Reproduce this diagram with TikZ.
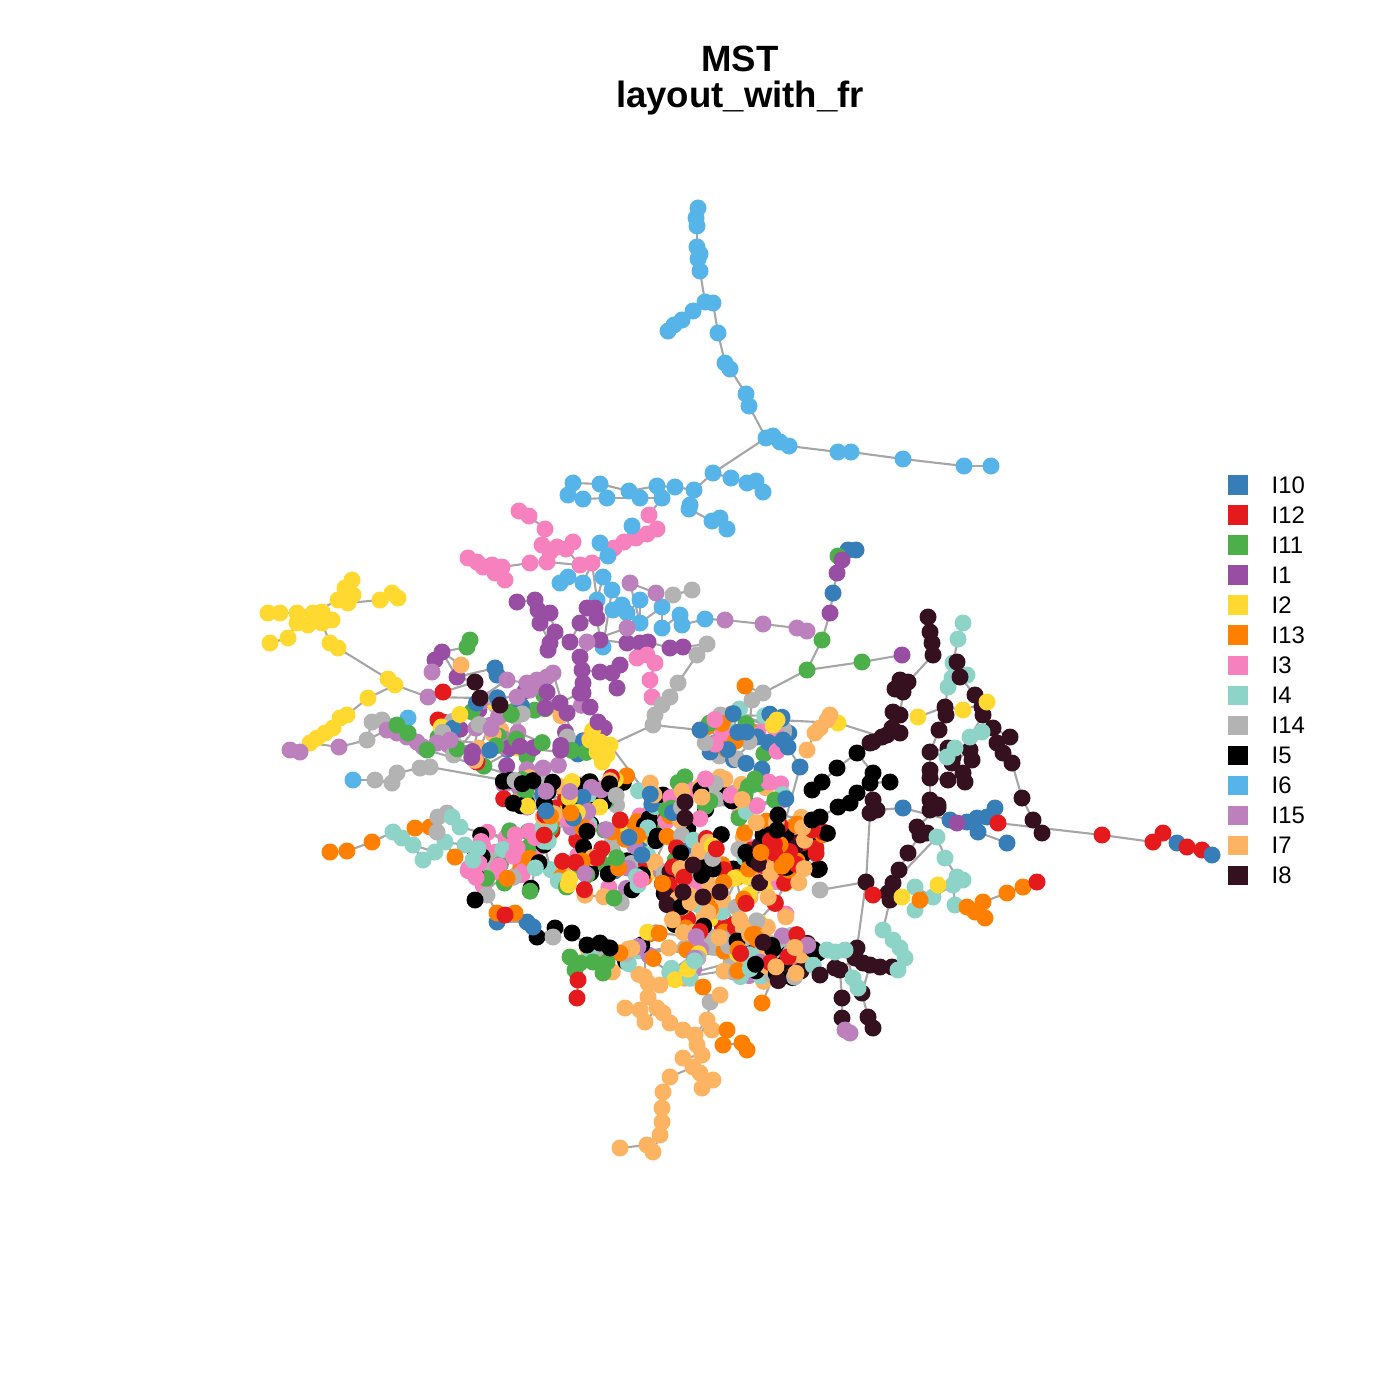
\documentclass[tikz,border=0pt]{standalone}
\usepackage{fontspec}
\setmainfont{Liberation Sans}

% 各类颜色
\definecolor{c10}{HTML}{377EB8}
\definecolor{c12}{HTML}{E41A1C}
\definecolor{c11}{HTML}{4DAF4A}
\definecolor{c1}{HTML}{984EA3}
\definecolor{c2}{HTML}{FFD92F}
\definecolor{c13}{HTML}{FF7F00}
\definecolor{c3}{HTML}{F781BF}
\definecolor{c4}{HTML}{8DD3C7}
\definecolor{c14}{HTML}{B3B3B3}
\definecolor{c5}{HTML}{000000}
\definecolor{c6}{HTML}{56B4E9}
\definecolor{c15}{HTML}{BC80BD}
\definecolor{c7}{HTML}{FDB462}
\definecolor{c8}{HTML}{35101F}
\definecolor{edgegray}{HTML}{A6A6A6}

% 点先记下，最后统一画在边的上面
\newcommand{\dotlist}{}
\newcommand{\adddot}[2]{%
  \xdef\dotlist{\unexpanded\expandafter{\dotlist}\noexpand\node[dot, fill=#2] at (#1) {};}}

% 一条链：#1 前缀, #2 起点, #3 颜色, #4 坐标表
\newcommand{\mstchain}[4]{%
  \foreach \px/\py [count=\k, remember=\k as \pk (initially 0)] in {#4}{%
    \coordinate (#1\k) at (\px,\py);
    \adddot{#1\k}{#3}%
    \ifnum\pk=0 \def\from{#2}\else\edef\from{#1\pk}\fi
    \ifx\from\empty\else
      \draw[edge] (\from) -- (#1\k);
    \fi
  }}

% 中心密集区：椭圆内随机撒点，近的相连
\newcommand{\mstcloud}[7]{%
  \xdef\wx{#2}\xdef\wy{#3}%
  \foreach \k in {1,...,#6}{%
    \pgfmathsetmacro\ang{360*rnd}%
    \pgfmathsetmacro\rr{sqrt(rnd)}%
    \pgfmathsetmacro\nx{#2+#4*\rr*cos(\ang)}%
    \pgfmathsetmacro\ny{#3+#5*\rr*sin(\ang)}%
    \pgfmathrandomitem{\dotcol}{#7}%
    \coordinate (#1\k) at (\nx,\ny);
    \ifnum\k>1
      \pgfmathsetmacro\dd{veclen(\nx-\wx,\ny-\wy)}%
      \ifdim\dd pt<45pt
        \pgfmathtruncatemacro\pk{\k-1}%
        \draw[edge] (#1\pk) -- (#1\k);
      \fi
    \fi
    \adddot{#1\k}{\dotcol}%
    \xdef\wx{\nx}\xdef\wy{\ny}%
  }}

\pgfmathdeclarerandomlist{mixa}{{c15}{c15}{c15}{c15}{c1}{c1}{c11}{c11}{c14}{c10}{c12}{c2}{c7}}
\pgfmathdeclarerandomlist{mixb}{{c3}{c3}{c3}{c3}{c5}{c5}{c4}{c13}{c14}{c11}}
\pgfmathdeclarerandomlist{mixc}{{c5}{c5}{c5}{c13}{c13}{c14}{c14}{c4}{c4}{c10}{c11}{c3}{c15}{c2}{c12}{c7}}
\pgfmathdeclarerandomlist{mixd}{{c7}{c7}{c7}{c12}{c12}{c12}{c5}{c5}{c13}{c13}{c14}{c4}{c8}{c3}{c2}}
\pgfmathdeclarerandomlist{mixe}{{c5}{c5}{c14}{c14}{c4}{c4}{c7}{c7}{c13}{c12}{c15}{c2}}
\pgfmathdeclarerandomlist{mixf}{{c10}{c10}{c10}{c10}{c11}{c14}{c14}{c4}{c3}{c13}}
\pgfmathdeclarerandomlist{mixg}{{c11}{c11}{c11}{c7}{c7}{c4}{c14}{c10}{c3}{c5}}
\pgfmathdeclarerandomlist{mixh}{{c5}{c5}{c5}{c12}{c12}{c7}{c7}{c13}{c8}}
\pgfmathdeclarerandomlist{mixi}{{c5}{c5}{c14}{c11}{c10}{c7}{c15}{c13}{c2}{c12}}
\pgfmathdeclarerandomlist{mixj}{{c14}{c14}{c15}{c5}{c5}{c4}{c12}{c8}{c13}{c7}}

\begin{document}
\begin{tikzpicture}[
  x=0.01cm, y=-0.01cm,
  dot/.style={circle, inner sep=0pt, minimum size=0.17cm, draw=none},
  edge/.style={edgegray, line width=0.6pt},
  keybox/.style={minimum width=0.2cm, minimum height=0.19cm, inner sep=0pt, draw=none},
  keytext/.style={anchor=west, inner sep=0pt, font=\fontsize{6.8}{8}\selectfont},
  titletext/.style={anchor=base, inner sep=0pt, font=\fontsize{10.4}{12}\selectfont\bfseries},
]
\useasboundingbox (0,0) rectangle (1400,1400);
\pgfmathsetseed{2024}

% 标题
\node[titletext] (title1) at (740,72) {MST};
\node[titletext] (title2) at (740,108) {layout\_with\_fr};

% 中心密集区
\mstcloud{za}{520}{730}{85}{40}{80}{mixa}
\mstcloud{zb}{510}{860}{45}{35}{50}{mixb}
\mstcloud{zc}{615}{840}{75}{65}{140}{mixc}
\mstcloud{zd}{730}{890}{70}{60}{140}{mixd}
\mstcloud{ze}{690}{955}{110}{25}{80}{mixe}
\mstcloud{zf}{745}{735}{45}{40}{45}{mixf}
\mstcloud{zg}{720}{795}{70}{25}{50}{mixg}
\mstcloud{zh}{790}{845}{45}{35}{50}{mixh}
\mstcloud{zi}{560}{790}{60}{30}{60}{mixi}
\mstcloud{zj}{775}{960}{50}{30}{50}{mixj}

% 上方蓝色分支
\mstchain{t}{}{c6}{766/438, 749/406, 746/394, 730/369, 725/363, 718/333, 713/303, 705/302, 700/271, 698/259, 700/254, 697/247, 697/226, 696/218, 698/208}
\mstchain{ta}{t8}{c6}{693/311, 682/320, 674/325, 668/331}
\mstchain{tb}{t1}{c6}{773/436, 780/442, 789/446, 838/452, 851/452, 903/459, 964/466, 991/466}
\mstchain{tc}{t1}{c6}{713/473, 694/490, 675/487, 657/486, 629/491, 600/484, 573/483, 568/495}
\mstchain{td}{tc1}{c6}{731/478, 747/483, 756/481, 763/492}
\mstchain{te}{tc4}{c6}{662/498, 640/498, 607/498, 583/499}
\mstchain{tf}{tc2}{c6}{690/505, 689/509, 712/521, 720/518, 727/529}

% 粉色
\mstchain{pa}{te1}{c3}{649/515, 657/529, 647/534, 636/538, 624/542, 614/548}
\mstchain{pb}{pa5}{c6}{632/526}
\mstchain{pc}{pa6}{c3}{592/563, 580/565, 566/549, 557/547, 550/552, 542/545, 545/529, 529/516, 519/511}
\mstchain{pd}{pa6}{c6}{608/556, 600/543}
\mstchain{pe}{pc2}{c3}{547/562, 530/563, 502/567, 492/565, 483/567, 477/562, 468/558}
\mstchain{pf}{pe3}{c3}{505/580, 495/573}
\mstchain{pg}{pc4}{c3}{573/542}

% 蓝色与紫色
\mstchain{sa}{pc1}{c6}{583/583, 568/577, 560/583}
\mstchain{sb}{pc1}{c6}{597/600, 603/577, 612/590, 622/605, 613/610, 627/613, 640/600, 640/623, 662/607, 662/628}
\mstchain{sc}{sb10}{c6}{680/615, 682/625, 705/619}
\mstchain{sd}{sc3}{c15}{725/620, 763/624, 797/628, 807/631}
\mstchain{se}{sb9}{c14}{673/595, 692/590}
\mstchain{sf}{sb8}{c15}{630/583, 656/593}
\mstchain{sg}{sb3}{c6}{603/647}
\mstchain{ua}{sb1}{c1}{595/608, 587/608, 580/623, 570/642, 555/632, 550/613, 538/610, 535/600, 517/602}
\mstchain{ub}{ua3}{c1}{597/618, 600/640, 627/643, 640/643, 648/642}
\mstchain{uc}{ub5}{c1}{670/648, 683/647}
\mstchain{ud}{ua5}{c1}{540/623, 550/643, 548/650}
\mstchain{ue}{ub2}{c1}{580/657, 582/670, 583/683, 580/693, 560/703}
\mstchain{uf}{ue2}{c1}{600/672, 612/673, 620/665}
\mstchain{ug}{uf2}{c1}{617/688}
\mstchain{uh}{ub2}{c15}{587/642, 627/628}
\mstchain{ui}{ub4}{c3}{637/658, 647/655, 655/663, 650/680, 652/697}
\mstchain{gg}{uc2}{c14}{707/644, 697/655, 678/683, 670/697, 662/705, 655/715, 653/725}

% 左侧黄色分支
\mstchain{ya}{}{c2}{268/613, 280/613, 297/613, 313/613, 322/612, 332/620, 322/623, 308/625, 297/623}
\mstchain{yb}{ya4}{c2}{338/600, 345/588, 352/580, 353/595, 348/603}
\mstchain{yc}{yb5}{c2}{380/600, 392/593, 398/598}
\mstchain{yd}{ya9}{c2}{288/638, 270/643}
\mstchain{ye}{ya7}{c2}{330/643, 338/648, 388/679, 395/685}
\mstchain{yf}{ye4}{c2}{368/698, 347/715, 340/718, 333/728, 325/733, 317/738, 310/743}
\mstchain{yg}{yf7}{c15}{300/752, 290/750}
\mstchain{yh}{ye4}{c15}{428/697}

% 左侧灰色与浅紫
\mstchain{la}{yf7}{c15}{339/747}
\mstchain{lb}{la1}{c14}{367/740, 372/722, 382/720}
\mstchain{lc}{lb1}{c15}{387/730, 397/733, 407/737, 417/742, 423/747, 437/743, 450/740}
\mstchain{ld}{lb3}{c6}{408/718}
\mstchain{le}{lc2}{c11}{397/725, 408/733}
\mstchain{lf}{}{c6}{353/780}
\mstchain{lg}{lf1}{c14}{375/780, 392/783, 397/773, 420/768, 430/767}
\mstchain{lh}{lc6}{c11}{427/750}

% 左上紫色区
\mstchain{mb}{}{c1}{435/660, 442/652, 457/677}
\mstchain{mc}{mb2}{c11}{467/647, 470/640}
\mstchain{md}{mb3}{c10}{495/668, 497/675}
\mstchain{me}{mb1}{c15}{432/672}
\mstchain{mf}{mb2}{c7}{461/665}
\mstchain{ma}{mb3}{c8}{475/682, 480/698, 500/705}
\mstchain{mg}{ma1}{c12}{443/692}
\mstchain{mh}{ma2}{c15}{507/680, 527/683, 537/680, 547/677, 553/673}
\mstchain{mi}{mh2}{c15}{517/697, 530/690}
\mstchain{mj}{mh5}{c1}{547/692, 545/708, 567/713}
\mstchain{mk}{ue4}{c1}{583/693, 590/707, 598/722}

% 左侧橙色与青色分支
\mstchain{oa}{}{c13}{330/852, 347/851, 372/842}
\mstchain{ob}{oa3}{c4}{393/832, 402/838, 413/845, 423/860}
\mstchain{oc}{ob3}{c4}{435/852, 445/842, 465/845, 473/860}
\mstchain{od}{ob2}{c13}{415/828, 430/827}
\mstchain{oe}{od2}{c14}{437/832, 438/817, 447/813}
\mstchain{of}{oe3}{c4}{452/817, 460/827}
\mstchain{og}{oc2}{c13}{455/857}

% 左下
\mstchain{qa}{}{c11}{570/957, 580/963, 575/970, 593/962, 603/973, 607/962}
\mstchain{qb}{qa2}{c12}{578/980, 577/998}
\mstchain{qc}{qa4}{c5}{587/945, 600/943, 610/948}
\mstchain{qd}{qc1}{c5}{572/933, 555/928, 537/937}
\mstchain{qe}{qd3}{c10}{533/927, 527/922, 497/922}
\mstchain{qf}{qe2}{c13}{515/913, 497/913}
\mstchain{qg}{qf1}{c12}{505/915}
\mstchain{qh}{qf2}{c14}{487/895}
\mstchain{qi}{qh1}{c5}{475/900}
\mstchain{qj}{qd2}{c14}{553/937}

% 中间黄色团
\mstchain{na}{}{c2}{590/740, 600/742, 610/745, 597/752, 607/755, 602/762}
\mstchain{nb}{gg7}{c10}{700/730}

% 下方橙黄分支
\mstchain{ba}{}{c7}{648/983, 648/997, 640/1010, 625/1008}
\mstchain{bb}{ba3}{c7}{645/1022, 657/1008, 663/1013, 670/1023, 683/1030, 695/1035, 707/1020, 712/1030}
\mstchain{bc}{bb7}{c7}{697/1045, 702/1055, 683/1058, 693/1067, 700/1073, 713/1080, 702/1088}
\mstchain{bd}{bc4}{c7}{670/1077, 663/1092, 662/1108, 662/1122, 660/1135, 653/1152, 647/1145, 620/1148}
\mstchain{be}{ba1}{c7}{660/985}
\mstchain{bf}{bb7}{c14}{710/1002}
\mstchain{bg}{bf1}{c7}{720/995}
\mstchain{bh}{bb8}{c13}{727/1030, 723/1045, 742/1043, 747/1050}
\mstchain{bi}{bf1}{c13}{703/987}
\mstchain{bj}{}{c13}{762/1003}

% 右侧深色分支
\mstchain{da}{}{c8}{928/617, 930/632, 932/643, 933/655}
\mstchain{db}{da4}{c8}{908/682, 900/680, 895/689, 903/692, 900/715, 893/712, 892/728, 900/733, 887/735, 882/737, 873/742, 870/743}
\mstchain{dc}{}{c4}{963/623, 958/639, 953/663, 952/678, 948/687, 967/675}
\mstchain{dd}{dc3}{c8}{957/662, 960/677, 975/695, 982/707, 983/715}
\mstchain{de}{dd5}{c8}{993/728, 1010/737, 997/743, 1003/753, 1012/763, 1022/798, 1033/820, 1042/833}
\mstchain{df}{dc5}{c8}{945/707, 946/715, 939/730, 930/752, 948/748, 953/757, 952/763, 970/750, 972/760}
\mstchain{dg}{df4}{c8}{930/770, 930/778, 948/780, 963/773, 965/782}
\mstchain{dh}{dg2}{c8}{930/800, 938/805, 930/810, 938/808, 917/827, 927/833, 920/835, 908/853, 899/870, 893/883, 888/893, 890/900}
\mstchain{di}{dd5}{c4}{970/737, 982/732}
\mstchain{dj}{df4}{c4}{947/757, 955/748}
\mstchain{dk}{df1}{c2}{918/717}
\mstchain{dl}{df1}{c2}{963/710, 987/702}
\mstchain{dm}{db10}{c2}{838/723}
\mstchain{dn}{dm1}{c7}{830/715, 827/720, 820/728, 815/733, 807/750}
\mstchain{do}{dm1}{c2}{777/720, 773/725}
\mstchain{dp}{do2}{c10}{783/740, 788/747, 800/767}

% 黑色带
\mstchain{ka}{db12}{c5}{857/753, 837/768, 822/782, 812/790}
\mstchain{kb}{ka1}{c5}{873/773, 870/783, 890/782}
\mstchain{kc}{kb2}{c5}{857/793, 850/803, 838/807, 820/817, 812/820}
\mstchain{kd}{kb2}{c8}{873/800, 877/810, 870/813}
\mstchain{ke}{kc5}{c5}{778/815, 777/830}
\mstchain{kf}{kd3}{c8}{866/882}
\mstchain{kg}{kf1}{c8}{857/948, 855/958, 863/963, 870/965, 880/967, 892/967}
\mstchain{kh}{kg2}{c8}{840/970, 835/968, 820/975}
\mstchain{ki}{kg4}{c8}{862/993, 868/1017, 873/1028}
\mstchain{kj}{kh1}{c8}{842/998, 842/1018}
\mstchain{kk}{kj2}{c15}{845/1030, 850/1033}
\mstchain{kl}{kf1}{c12}{873/895}
\mstchain{km}{kf1}{c14}{820/890}
\mstchain{ra}{}{c8}{685/802, 685/818}
\mstchain{rb}{}{c8}{693/865}
\mstchain{rc}{}{c8}{683/892, 703/897, 720/892}

% 右下青色与橙色
\mstchain{ea}{dh12}{c4}{883/930, 893/940, 900/948, 905/958, 898/970}
\mstchain{eb}{kg1}{c4}{845/950, 835/952, 827/950}
\mstchain{ec}{eb1}{c4}{853/978, 858/988}
\mstchain{ed}{dh10}{c4}{937/837, 945/858, 957/877, 963/880, 953/885}
\mstchain{ee}{ed5}{c4}{933/897, 915/887, 915/910}
\mstchain{ef}{ed5}{c4}{955/905}
\mstchain{eg}{ed5}{c2}{938/885}
\mstchain{eh}{dh12}{c2}{902/897}
\mstchain{ei}{ee1}{c13}{920/900}
\mstchain{ej}{ef1}{c13}{967/907, 975/912, 985/918, 983/902, 1007/893, 1023/887}
\mstchain{ek}{ej6}{c12}{1037/882}

% 右侧蓝红尾巴
\mstchain{fa}{kd2}{c10}{903/808, 950/820, 967/822, 977/818, 987/817, 995/808}
\mstchain{fb}{fa3}{c10}{978/832, 1007/843}
\mstchain{fc}{fa2}{c1}{957/823}
\mstchain{fd}{fa5}{c12}{998/823, 1102/835, 1153/842, 1163/833}
\mstchain{fe}{fd4}{c10}{1177/843}
\mstchain{ff}{fe1}{c12}{1187/847, 1202/850}
\mstchain{fg}{ff2}{c10}{1212/855}

% 右上绿色分支
\mstchain{ha}{}{c10}{848/550, 856/550}
\mstchain{hb}{ha1}{c11}{838/556}
\mstchain{hc}{hb1}{c1}{842/560, 837/573}
\mstchain{hd}{hc2}{c10}{833/593}
\mstchain{he}{hd1}{c1}{830/613}
\mstchain{hf}{he1}{c11}{822/640, 807/670}
\mstchain{hg}{hf2}{c11}{862/662}
\mstchain{hh}{hg1}{c1}{902/655}
\mstchain{hi}{hf2}{c14}{763/693, 752/700}
\mstchain{hj}{hi1}{c13}{745/686}

% 额外连线
\foreach \a/\b in {oc4/zb1, of2/zb1, lg5/zi1, lh1/zi1, yh1/ma2, mh5/za1, na3/zc1, nb1/do2, qc1/ze1,
  ba1/ze1, bj1/zj1, kc5/zh1, kh3/zj1, dp3/zh1, hi2/zf1, eb3/zj1, lc7/za1, gg7/na3, qi1/zb1, ra2/zg1}
  \draw[edge] (\a) -- (\b);

% 所有点
\dotlist

% 图例
\foreach \col/\lab [count=\r] in {c10/I10, c12/I12, c11/I11, c1/I1, c2/I2, c13/I13, c3/I3,
  c4/I4, c14/I14, c5/I5, c6/I6, c15/I15, c7/I7, c8/I8}{
  \node[keybox, fill=\col] (key\r) at (1238,{455+30*\r}) {};
  \node[keytext] (lab\r) at (1271,{455+30*\r}) {\lab};
}

\end{tikzpicture}
\end{document}
